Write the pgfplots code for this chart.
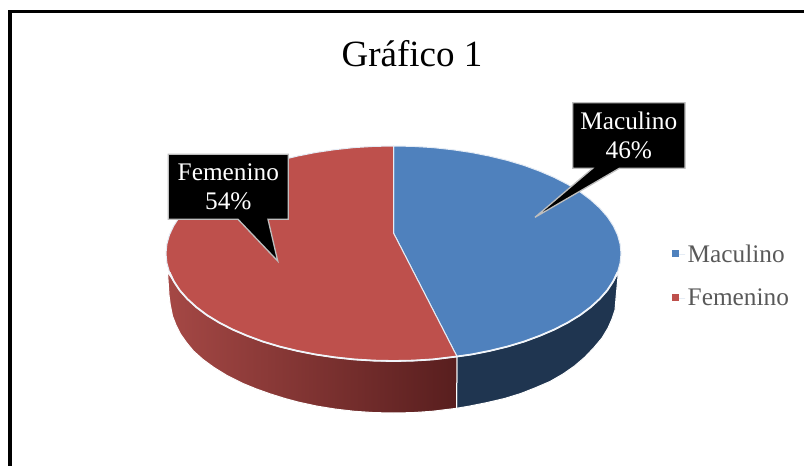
\documentclass[border=0pt]{standalone}
\usepackage{pgfplots}
\pgfplotsset{compat=1.18}
\usepackage{fontspec}
\setmainfont{Liberation Serif}
\definecolor{pieblue}{HTML}{4F81BD}
\definecolor{piered}{HTML}{BE504C}
\definecolor{sideblue}{HTML}{1F3550}
\definecolor{legtext}{HTML}{595959}
\begin{document}
\begin{tikzpicture}[x=1pt,y=1pt]
\path[use as bounding box] (0,0) rectangle (804pt,466pt);
\begin{axis}[
  at={(0,0)}, anchor=south west,
  scale only axis, width=804pt, height=466pt,
  xmin=0, xmax=804, ymin=0, ymax=466, y dir=reverse,
  axis lines=none, clip=true,
  legend style={at={(axis cs:671.5,276)}, anchor=west, draw=none, fill=none,
    font=\fontsize{25.3}{28}\selectfont, text=legtext, row sep=21pt, inner sep=0pt},
  legend cell align=left,
  legend image code/.code={\path (0pt,0pt) -- (13pt,0pt);\fill[#1,draw=none] (0pt,-3pt) rectangle (7pt,4pt);},
]
% frame
\addplot[forget plot, black, line width=4pt] coordinates {(10,466) (10,11.2)};
\addplot[forget plot, black, line width=2.7pt] coordinates {(8,11.2) (804,11.2)};
% blue side
\addplot[forget plot, draw=white, line width=1pt, fill=sideblue] coordinates {
(457,356.5)(471.3,354.5)(489.6,350.9)(507.3,346.6)(524.0,341.6)(539.7,335.8)(554.4,329.5)(567.8,322.6)(579.9,315.2)(590.5,307.3)(599.7,298.9)(607.3,290.3)(613.2,281.3)(618.3,273)
(616,298)(615,310)(612,319)(608,328)(602,338)(594,347.5)(585,357)(574.5,366)(563,374)(550,381.5)(536,387.5)(520.8,393.5)(504.5,398.5)(487.3,402.5)(469.4,406.1)(456.5,408.3)
} -- cycle;
% red side
\addplot[forget plot, draw=white, line width=1pt, shade, shading=axis, shading angle=90, left color={rgb,255:red,165;green,72;blue,69}, right color={rgb,255:red,88;green,30;blue,30}] coordinates {
(457,356.5)(433.0,359.4)(413.3,360.6)(393.5,361)(373.7,360.6)(354.0,359.4)(334.6,357.3)(315.7,354.5)(297.4,350.9)(279.7,346.6)(263.0,341.6)(247.3,335.8)(232.6,329.5)(219.2,322.6)(207.1,315.2)(196.5,307.3)(187.3,298.9)(179.7,290.3)(173.8,281.3)(167.5,272)
(169,295)(170.3,305)(172.5,316)(176,325)(180.5,334)(186.5,342.5)(193.5,351)(203,359.5)(214,367.5)(227,375.5)(243,383.5)(256,388.8)(270,393.8)(285,398.5)(298.8,402.2)(316.9,406.1)(335.5,409.1)(354.6,411.3)(374,412.6)(393.5,413)(412.9,412.6)(432,411.3)(456.5,408.3)
} -- cycle;
% blue top
\addplot[draw=white!85!pieblue, line width=1pt, fill=pieblue] coordinates {
(393.5,233)(393.5,146)(413.3,146.4)(433.0,147.6)(452.4,149.7)(471.3,152.5)(489.6,156.1)(507.3,160.4)(524.0,165.4)(539.7,171.2)(554.4,177.5)(567.8,184.4)(579.9,191.8)(590.5,199.7)(599.7,208.1)(607.3,216.7)(613.2,225.7)(617.5,234.8)(620.1,244.1)(621,253.5)(620.1,262.9)(617.5,272.2)(613.2,281.3)(607.3,290.3)(599.7,298.9)(590.5,307.3)(579.9,315.2)(567.8,322.6)(554.4,329.5)(539.7,335.8)(524.0,341.6)(507.3,346.6)(489.6,350.9)(471.3,354.5)(457,356.5)
} -- cycle;
\addlegendentry{Maculino}
% red top
\addplot[draw=white!85!pieblue, line width=1pt, fill=piered] coordinates {
(393.5,233)(457,356.5)(433.0,359.4)(413.3,360.6)(393.5,361)(373.7,360.6)(354.0,359.4)(334.6,357.3)(315.7,354.5)(297.4,350.9)(279.7,346.6)(263.0,341.6)(247.3,335.8)(232.6,329.5)(219.2,322.6)(207.1,315.2)(196.5,307.3)(187.3,298.9)(179.7,290.3)(173.8,281.3)(169.5,272.2)(166.9,262.9)(166,253.5)(166.9,244.1)(169.5,234.8)(173.8,225.7)(179.7,216.7)(187.3,208.1)(196.5,199.7)(207.1,191.8)(219.2,184.4)(232.6,177.5)(247.3,171.2)(263.0,165.4)(279.7,160.4)(297.4,156.1)(315.7,152.5)(334.6,149.7)(354.0,147.6)(373.7,146.4)(393.5,146)
} -- cycle;
\addlegendentry{Femenino}
% light rim on the near edge
\addplot[forget plot, draw=white!92!pieblue, line width=1.8pt] coordinates {
(169.5,272.2)(173.8,281.3)(179.7,290.3)(187.3,298.9)(196.5,307.3)(207.1,315.2)(219.2,322.6)(232.6,329.5)(247.3,335.8)(263.0,341.6)(279.7,346.6)(297.4,350.9)(315.7,354.5)(334.6,357.3)(354.0,359.4)(373.7,360.6)(393.5,361)(413.3,360.6)(433.0,359.4)(457,356.5)(471.3,354.5)(489.6,350.9)(507.3,346.6)(524.0,341.6)(539.7,335.8)(554.4,329.5)(567.8,322.6)(579.9,315.2)(590.5,307.3)(599.7,298.9)(607.3,290.3)(613.2,281.3)(617.5,272.2)};
% callouts
\addplot[forget plot, draw={rgb,255:red,190;green,190;blue,190}, line width=1.3pt, fill=black] coordinates {
(168.3,154.3)(288.3,154.3)(288.3,219.3)(268,219.3)(277.7,261)(238,219.3)(168.3,219.3)} -- cycle;
\addplot[forget plot, draw={rgb,255:red,190;green,190;blue,190}, line width=1.3pt, fill=black] coordinates {
(572.7,102.7)(685,102.7)(685,168.3)(619.3,168.3)(535,217.3)(592.7,168.3)(572.7,168.3)} -- cycle;
\node[text=white, font=\fontsize{25.3}{28.5}\selectfont, align=center, anchor=center] at (axis cs:228.3,187) {Femenino\\54\%};
\node[text=white, font=\fontsize{25.3}{28.5}\selectfont, align=center, anchor=center] at (axis cs:628.8,135.5) {Maculino\\46\%};
\node[text=black, font=\fontsize{37}{40}\selectfont, anchor=center] at (axis cs:412,54) {Gráfico 1};
\end{axis}
\end{tikzpicture}
\end{document}
